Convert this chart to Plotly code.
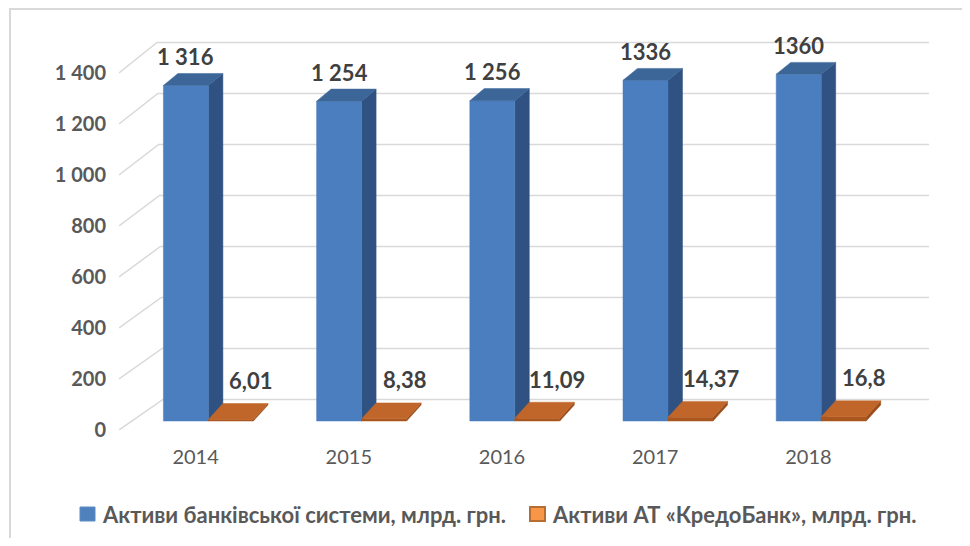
import plotly.graph_objects as go

# ---------------- data ----------------
years = ["2014", "2015", "2016", "2017", "2018"]
bank_system = [1316, 1254, 1256, 1336, 1360]
bank_system_labels = ["1 316", "1 254", "1 256", "1336", "1360"]
credo_bank = [6.01, 8.38, 11.09, 14.37, 16.8]
credo_bank_labels = ["6,01", "8,38", "11,09", "14,37", "16,8"]
series_names = ["Активи банківської системи, млрд. грн.",
                "Активи АТ «КредоБанк», млрд. грн."]
y_ticks = [0, 200, 400, 600, 800, 1000, 1200, 1400]
y_tick_labels = ["0", "200", "400", "600", "800", "1 000", "1 200", "1 400"]

# ---------------- geometry ----------------
PAGE_W, PAGE_H = 970, 546
PAD = 8                                  # browser body margin
W, H = PAGE_W - 2 * PAD, PAGE_H - 2 * PAD
# plot area in page pixels
L, R, T, B = 119, 929, 30, 430
PX_X = 153.2                  # px per category
PX_Y = 357 / 1400             # px per value unit
X_MIN = -0.5
X_MAX = X_MIN + (R - L) / PX_X
Y_MAX = (B - T) / PX_Y


def ux(px):
    return px / PX_X


def uy(px):
    return px / PX_Y


def paper_x(page_px):
    return (page_px - L) / (R - L)


def paper_y(page_py):
    return (B - page_py) / (B - T)


WALL_DX_BOTTOM, WALL_DX_TOP, WALL_DY = 44, 38, 30.5
BAR_W = ux(45)
OFF_X, OFF_Y = ux(12.8), uy(9)
DEPTH_DX = ux(14.5)

grid_color = "#D9D9D9"
face_colors = [
    dict(front="#4A7EBE", top="#3D6698", side="#2F5282"),
    dict(front="#A9561F", top="#C0662B", side="#9A4D1B"),
]
legend_colors = [dict(fill="#4F81BD", line="#5B8BC4"),
                 dict(fill="#F79646", line="#B66D31")]
label_color = "#404040"
axis_color = "#595959"
FONT = "Lato"

fig = go.Figure()

# back wall gridlines (diagonal from front + horizontal on back wall)
gx, gy = [], []
for v in y_ticks:
    dx_px = WALL_DX_BOTTOM + (WALL_DX_TOP - WALL_DX_BOTTOM) * v / 1400
    bx = X_MIN + ux(dx_px)
    by = v + uy(WALL_DY)
    gx += [X_MIN, bx, X_MAX, None]
    gy += [v, by, by, None]
fig.add_trace(go.Scatter(x=gx, y=gy, mode="lines",
                         line=dict(color=grid_color, width=1.5),
                         hoverinfo="skip", showlegend=False))


def poly(xs, ys, color, name):
    fig.add_trace(go.Scatter(x=xs + [xs[0]], y=ys + [ys[0]], mode="lines",
                             fill="toself", fillcolor=color, name=name,
                             line=dict(color=color, width=0.5),
                             hoverinfo="skip", showlegend=False))


annotations = []
series = [(bank_system, bank_system_labels), (credo_bank, credo_bank_labels)]
for i in range(len(years)):
    for s, (vals, labs) in enumerate(series):
        v = vals[i]
        xl = i + OFF_X + (s - 1) * BAR_W
        xr = xl + BAR_W
        yb = OFF_Y
        yt = yb + v
        ddy = uy(16 - 4.3 * v / 1400)
        c = face_colors[s]
        poly([xr, xr + DEPTH_DX, xr + DEPTH_DX, xr],
             [yb, yb + ddy, yt + ddy, yt], c["side"], series_names[s])
        poly([xl, xr, xr, xl], [yb, yb, yt, yt], c["front"], series_names[s])
        poly([xl, xr, xr + DEPTH_DX, xl + DEPTH_DX],
             [yt, yt, yt + ddy, yt + ddy], c["top"], series_names[s])
        annotations.append(dict(
            x=(xl + xr) / 2, y=yt + ddy, text=labs[i], showarrow=False,
            yanchor="middle", yshift=17 if s == 0 else 23, xshift=0 if s == 0 else 20,
            font=dict(family=FONT, size=22, color=label_color, weight="bold")))

# manual legend (squares + names)
shapes = []
legend_items = [dict(sq=(80, 95), text_x=100), dict(sq=(530, 545), text_x=550)]
for k, item in enumerate(legend_items):
    shapes.append(dict(type="rect", xref="paper", yref="paper",
                       x0=paper_x(item["sq"][0]), x1=paper_x(item["sq"][1]),
                       y0=paper_y(521), y1=paper_y(507),
                       fillcolor=legend_colors[k]["fill"],
                       line=dict(color=legend_colors[k]["line"], width=2 if k else 1)))
    annotations.append(dict(xref="paper", yref="paper", x=paper_x(item["text_x"]),
                            y=paper_y(514), xanchor="left", yanchor="middle",
                            text=series_names[k], showarrow=False,
                            font=dict(family=FONT, size=22, color=axis_color,
                                      weight="bold")))

# chart border (left & top visible)
shapes.append(dict(type="rect", xref="paper", yref="paper",
                   x0=paper_x(10), x1=paper_x(1000),
                   y0=paper_y(600), y1=paper_y(9),
                   line=dict(color="#D9D9D9", width=2), fillcolor="rgba(0,0,0,0)",
                   layer="below"))

fig.update_layout(
    width=W, height=H,
    margin=dict(l=L - PAD, r=(PAGE_W - PAD) - R, t=T - PAD, b=(PAGE_H - PAD) - B),
    paper_bgcolor="white", plot_bgcolor="white",
    showlegend=False,
    xaxis=dict(type="linear", range=[X_MIN, X_MAX], showgrid=False, zeroline=False,
               showline=False, tickmode="array", tickvals=list(range(len(years))),
               ticktext=years, ticks="", ticklabelstandoff=13,
               tickfont=dict(family=FONT, size=20, color=axis_color),
               fixedrange=True),
    yaxis=dict(range=[0, Y_MAX], showgrid=False, zeroline=False, showline=False,
               tickmode="array", tickvals=y_ticks, ticktext=y_tick_labels,
               ticks="", ticklabelstandoff=12,
               tickfont=dict(family=FONT, size=20, color=axis_color, weight="bold"),
               fixedrange=True),
    annotations=annotations,
    shapes=shapes,
)

fig.write_html("out.html")
